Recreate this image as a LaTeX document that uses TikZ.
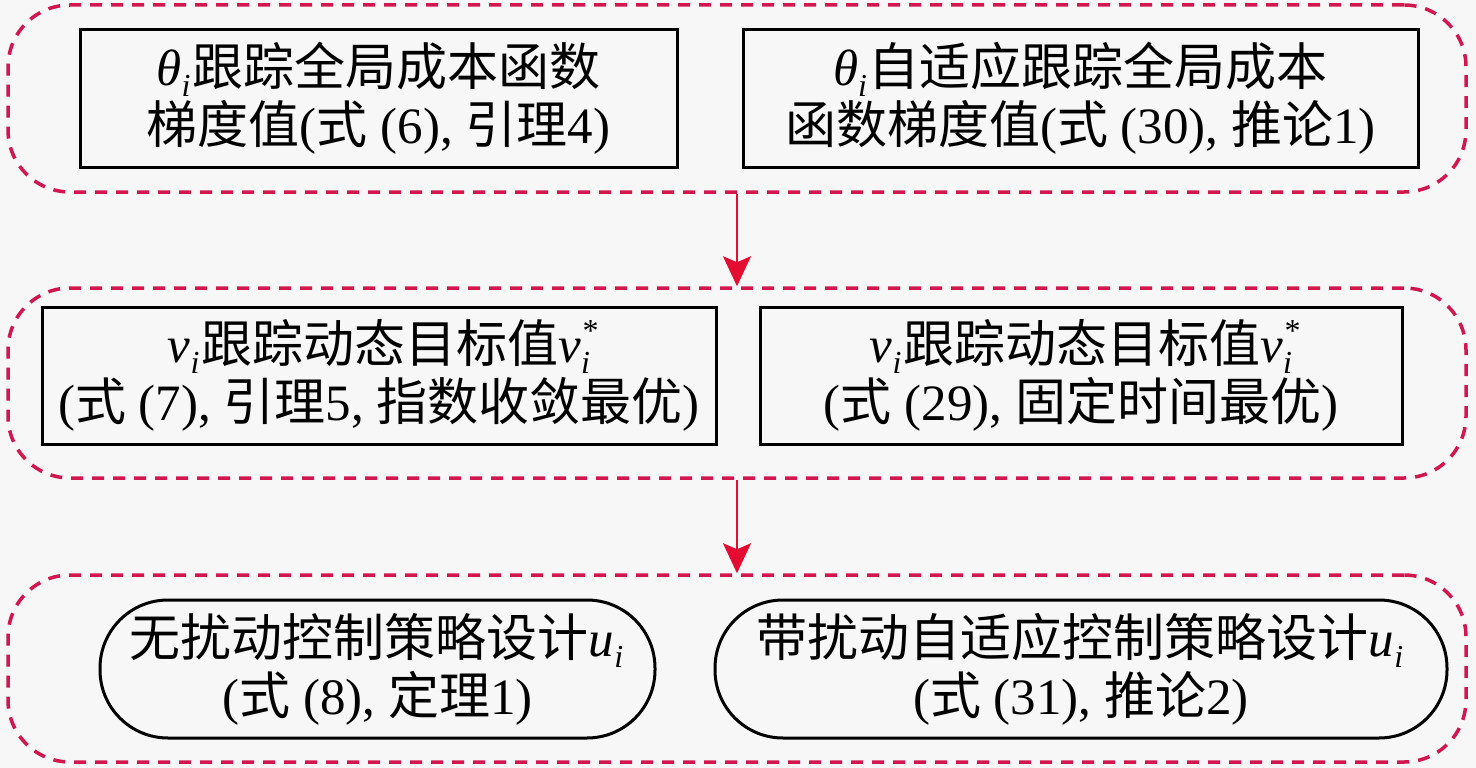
\documentclass[tikz,border=0pt]{standalone}
\usepackage{fontspec}
\setmainfont{Liberation Serif}
\newfontfamily\cjk{Noto Sans CJK SC}
\newcommand\zh[1]{{\cjk #1}}
\newcommand\smallit[1]{{\fontsize{32}{32}\selectfont\itshape #1}}
\newcommand\vsub[2]{\textit{#1}\raisebox{-0.22em}{\smallit{#2}}\kern2pt}
\newcommand\vsubsup[3]{\textit{#1}\rlap{\raisebox{0.42em}{\smallit{#3}}}\raisebox{-0.22em}{\smallit{#2}}}
\usetikzlibrary{arrows.meta}
\definecolor{grpcol}{RGB}{210,22,80}
\definecolor{arrcol}{RGB}{228,12,48}
\definecolor{bgcol}{RGB}{247,247,247}
\begin{document}
\begin{tikzpicture}[x=1pt,y=-1pt,
  grp/.style={draw=grpcol,line width=3.5pt,dash pattern=on 12pt off 9pt,rounded corners=62pt,minimum width=1458pt},
  sqbox/.style={draw=black,line width=3pt,minimum height=137pt,align=center,font=\fontsize{51}{58}\selectfont,inner sep=0pt},
  rdbox/.style={sqbox,rounded corners=68pt,minimum height=138pt},
  flow/.style={draw=arrcol,line width=2pt,-{Stealth[length=30pt,width=28pt,inset=6pt]}}]
\fill[bgcol] (0,0) rectangle (1476,768);
\useasboundingbox (0,0) rectangle (1476,768);
\node[grp,minimum height=187pt] (g1) at (737,98.5) {};
\node[grp,minimum height=190pt] (g2) at (737,383) {};
\node[grp,minimum height=187pt] (g3) at (737,668.5) {};
\node[sqbox,minimum width=597pt] (b1) at (378.5,98.5) {\vsub{θ}{i}\zh{跟踪全局成本函数}\\\zh{梯度值}(\zh{式} (6), \zh{引理}4)};
\node[sqbox,minimum width=675pt] (b2) at (1080.5,98.5) {\vsub{θ}{i}\zh{自适应跟踪全局成本}\\\zh{函数梯度值}(\zh{式} (30), \zh{推论}1)};
\node[sqbox,minimum width=674pt] (b3) at (379,375.5) {\vsub{v}{i}\zh{跟踪动态目标值}\vsubsup{v}{i}{*}\\(\zh{式} (7), \zh{引理}5, \zh{指数收敛最优})};
\node[sqbox,minimum width=642pt] (b4) at (1081,375.5) {\vsub{v}{i}\zh{跟踪动态目标值}\vsubsup{v}{i}{*}\\(\zh{式} (29), \zh{固定时间最优})};
\node[rdbox,minimum width=555pt] (b5) at (377.5,669) {\zh{无扰动控制策略设计}\vsub{u}{i}\\(\zh{式} (8), \zh{定理}1)};
\node[rdbox,minimum width=732pt] (b6) at (1081,669) {\zh{带扰动自适应控制策略设计}\vsub{u}{i}\\(\zh{式} (31), \zh{推论}2)};
\draw[flow] (g1.south) -- (g2.north);
\draw[flow] (g2.south) -- (g3.north);
\end{tikzpicture}
\end{document}
